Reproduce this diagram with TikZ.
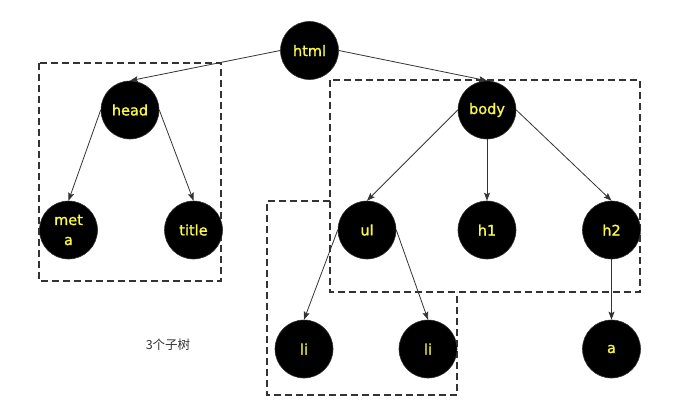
\documentclass[tikz,border=0pt]{standalone}
\usepackage{fontspec}
\setmainfont{DejaVu Sans}
\newfontfamily\nodefont[FakeBold=1.2]{DejaVu Sans}
\newfontfamily\cjk{Noto Sans CJK SC}
\usetikzlibrary{arrows.meta}
\definecolor{nodetext}{RGB}{250,250,70}
\definecolor{linegray}{RGB}{51,51,51}
\tikzset{
  tnode/.style={circle, fill=black, draw=linegray, line width=0.6pt, minimum size=58pt, inner sep=0pt,
    text=nodetext, font=\nodefont\fontsize{14.5}{20}\selectfont, align=center},
  edge/.style={draw=linegray, line width=0.8pt, -{Stealth[length=8pt,width=6pt,inset=1.5pt]}},
  grp/.style={draw=linegray, line width=2pt, dash pattern=on 7pt off 4pt},
}
\begin{document}
\begin{tikzpicture}[x=1pt,y=-1pt]
\useasboundingbox (0,0) rectangle (674,418);
% group boxes
\draw[grp] (39,63) rectangle (221,281);
\draw[grp] (330,80) rectangle (640,292);
\draw[grp] (330,201) -- (267,201) -- (267,395) -- (457,395) -- (457,292);
% nodes
\node[tnode] (html) at (309.5,50.5) {html};
\node[tnode] (head) at (130,110) {head};
\node[tnode] (body) at (487,110) {body};
\node[tnode] (meta) at (68.5,230) {met\\a};
\node[tnode] (title) at (193.5,230) {title};
\node[tnode] (ul) at (367,230) {ul};
\node[tnode] (h1) at (487,230) {h1};
\node[tnode] (h2) at (611.5,230) {h2};
\node[tnode] (li1) at (304,349) {li};
\node[tnode] (li2) at (428,349) {li};
\node[tnode] (a) at (611.5,349) {a};
% label
\node[font=\cjk\fontsize{12.5}{15}\selectfont, text=linegray] (lbl) at (168,345) {3个子树};
% edges
\draw[edge] (html.west) -- (head.north);
\draw[edge] (html.east) -- (body.north);
\draw[edge] (head.west) -- (meta.north);
\draw[edge] (head.east) -- (title.north);
\draw[edge] (body.west) -- (ul.north);
\draw[edge] (body.south) -- (h1.north);
\draw[edge] (body.east) -- (h2.north);
\draw[edge] (ul.west) -- (li1.north);
\draw[edge] (ul.east) -- (li2.north);
\draw[edge] (h2.south) -- (a.north);
\end{tikzpicture}
\end{document}
